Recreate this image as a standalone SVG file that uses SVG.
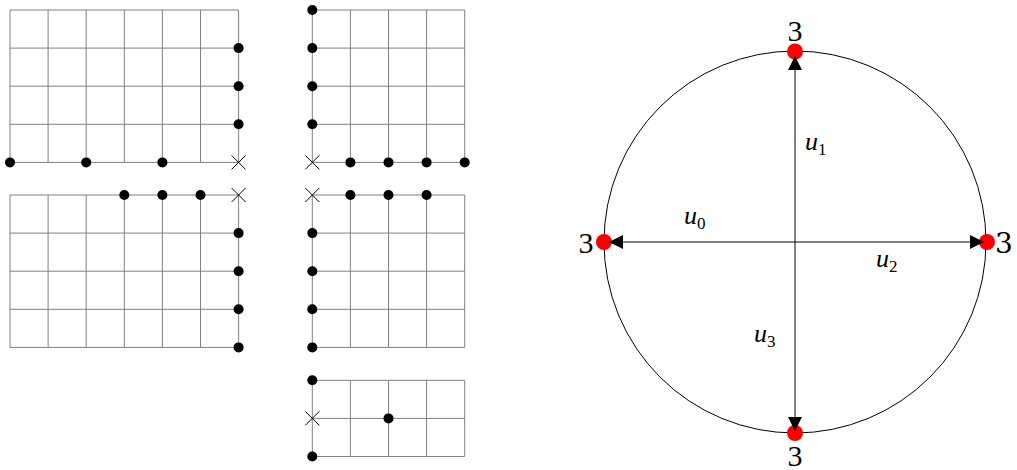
<svg xmlns="http://www.w3.org/2000/svg" width="1017" height="470" viewBox="0 0 1017 470">
<style>
.grid{fill:none;stroke:#808080;stroke-width:1}
.dot{fill:#000}
.cross{stroke:#000;stroke-width:1;fill:none}
.rdot{fill:#ff0000}
.arr{stroke:#000;stroke-width:1;fill:none;marker-end:url(#ah)}
</style>
<defs>
<marker id="ah" markerUnits="userSpaceOnUse" markerWidth="14" markerHeight="14" viewBox="0 0 12 12" refX="12" refY="6" orient="auto">
<path d="M0,0 L12,6 L0,12 Z" fill="#000"/>
</marker>
</defs>
<rect width="1017" height="470" fill="#fff"/>

<g id="grid-top-left">
<path class="grid" d="M10,10H238.6M10,48.1H238.6M10,86.2H238.6M10,124.3H238.6M10,162.4H238.6M10,10V162.4M48.1,10V162.4M86.2,10V162.4M124.3,10V162.4M162.4,10V162.4M200.5,10V162.4M238.6,10V162.4"/>
<circle class="dot" cx="238.6" cy="48.1" r="5"/>
<circle class="dot" cx="238.6" cy="86.2" r="5"/>
<circle class="dot" cx="238.6" cy="124.3" r="5"/>
<circle class="dot" cx="10" cy="162.4" r="5"/>
<circle class="dot" cx="86.2" cy="162.4" r="5"/>
<circle class="dot" cx="162.4" cy="162.4" r="5"/>
<path class="cross" d="M231.6,155.4L245.6,169.4M231.6,169.4L245.6,155.4"/>
</g>

<g id="grid-top-right">
<path class="grid" d="M312.3,10H464.7M312.3,48.1H464.7M312.3,86.2H464.7M312.3,124.3H464.7M312.3,162.4H464.7M312.3,10V162.4M350.4,10V162.4M388.5,10V162.4M426.6,10V162.4M464.7,10V162.4"/>
<circle class="dot" cx="312.3" cy="10" r="5"/>
<circle class="dot" cx="312.3" cy="48.1" r="5"/>
<circle class="dot" cx="312.3" cy="86.2" r="5"/>
<circle class="dot" cx="312.3" cy="124.3" r="5"/>
<circle class="dot" cx="350.4" cy="162.4" r="5"/>
<circle class="dot" cx="388.5" cy="162.4" r="5"/>
<circle class="dot" cx="426.6" cy="162.4" r="5"/>
<circle class="dot" cx="464.7" cy="162.4" r="5"/>
<path class="cross" d="M305.3,155.4L319.3,169.4M305.3,169.4L319.3,155.4"/>
</g>

<g id="grid-bottom-left">
<path class="grid" d="M10,195H238.6M10,233.1H238.6M10,271.2H238.6M10,309.3H238.6M10,347.4H238.6M10,195V347.4M48.1,195V347.4M86.2,195V347.4M124.3,195V347.4M162.4,195V347.4M200.5,195V347.4M238.6,195V347.4"/>
<circle class="dot" cx="124.3" cy="195" r="5"/>
<circle class="dot" cx="162.4" cy="195" r="5"/>
<circle class="dot" cx="200.5" cy="195" r="5"/>
<circle class="dot" cx="238.6" cy="233.1" r="5"/>
<circle class="dot" cx="238.6" cy="271.2" r="5"/>
<circle class="dot" cx="238.6" cy="309.3" r="5"/>
<circle class="dot" cx="238.6" cy="347.4" r="5"/>
<path class="cross" d="M231.6,188L245.6,202M231.6,202L245.6,188"/>
</g>

<g id="grid-bottom-right">
<path class="grid" d="M312.3,195H464.7M312.3,233.1H464.7M312.3,271.2H464.7M312.3,309.3H464.7M312.3,347.4H464.7M312.3,195V347.4M350.4,195V347.4M388.5,195V347.4M426.6,195V347.4M464.7,195V347.4"/>
<circle class="dot" cx="350.4" cy="195" r="5"/>
<circle class="dot" cx="388.5" cy="195" r="5"/>
<circle class="dot" cx="426.6" cy="195" r="5"/>
<circle class="dot" cx="312.3" cy="233.1" r="5"/>
<circle class="dot" cx="312.3" cy="271.2" r="5"/>
<circle class="dot" cx="312.3" cy="309.3" r="5"/>
<circle class="dot" cx="312.3" cy="347.4" r="5"/>
<path class="cross" d="M305.3,188L319.3,202M305.3,202L319.3,188"/>
</g>

<g id="grid-small">
<path class="grid" d="M312.3,380.3H464.7M312.3,418.4H464.7M312.3,456.5H464.7M312.3,380.3V456.5M350.4,380.3V456.5M388.5,380.3V456.5M426.6,380.3V456.5M464.7,380.3V456.5"/>
<circle class="dot" cx="312.3" cy="380.3" r="5"/>
<circle class="dot" cx="312.3" cy="456.5" r="5"/>
<circle class="dot" cx="388.5" cy="418.4" r="5"/>
<path class="cross" d="M305.3,411.4L319.3,425.4M305.3,425.4L319.3,411.4"/>
</g>

<g id="circle-node">
<circle cx="795" cy="242" r="191" fill="none" stroke="#000" stroke-width="1"/>
</g>
<g id="pt-top"><circle class="rdot" cx="795" cy="51.5" r="8"/><text font-family="Liberation Serif, serif" font-size="30" x="795" y="41" text-anchor="middle">3</text></g>
<g id="pt-left"><circle class="rdot" cx="604" cy="242" r="8"/><text font-family="'Liberation Serif', serif" font-size="30" x="586" y="253" text-anchor="middle">3</text></g>
<g id="pt-right"><circle class="rdot" cx="987" cy="242" r="8"/><text font-family="DejaVu Serif, serif" font-size="28" x="1004" y="253" text-anchor="middle">3</text></g>
<g id="pt-bottom"><circle class="rdot" cx="795" cy="433" r="8"/><text font-family="serif" font-size="30" x="795" y="466" text-anchor="middle">3</text></g>

<g id="connectors">
<line class="arr" x1="795" y1="242" x2="795" y2="56"/>
<line class="arr" x1="795" y1="242" x2="609" y2="242"/>
<line class="arr" x1="795" y1="242" x2="984" y2="242"/>
<line class="arr" x1="795" y1="242" x2="795" y2="431"/>
<text font-family="Liberation Serif, serif" font-style="italic" font-size="26" x="684" y="224">u<tspan font-style="normal" font-size="17" dy="5">0</tspan></text>
<text font-family="Liberation Serif, serif" font-style="italic" font-size="26" x="805" y="150">u<tspan font-style="normal" font-size="17" dy="5">1</tspan></text>
<text font-family="Liberation Serif, serif" font-style="italic" font-size="26" x="876" y="267">u<tspan font-style="normal" font-size="17" dy="5">2</tspan></text>
<text font-family="Liberation Serif, serif" font-style="italic" font-size="26" x="754" y="342">u<tspan font-style="normal" font-size="17" dy="5">3</tspan></text>
</g>
</svg>
